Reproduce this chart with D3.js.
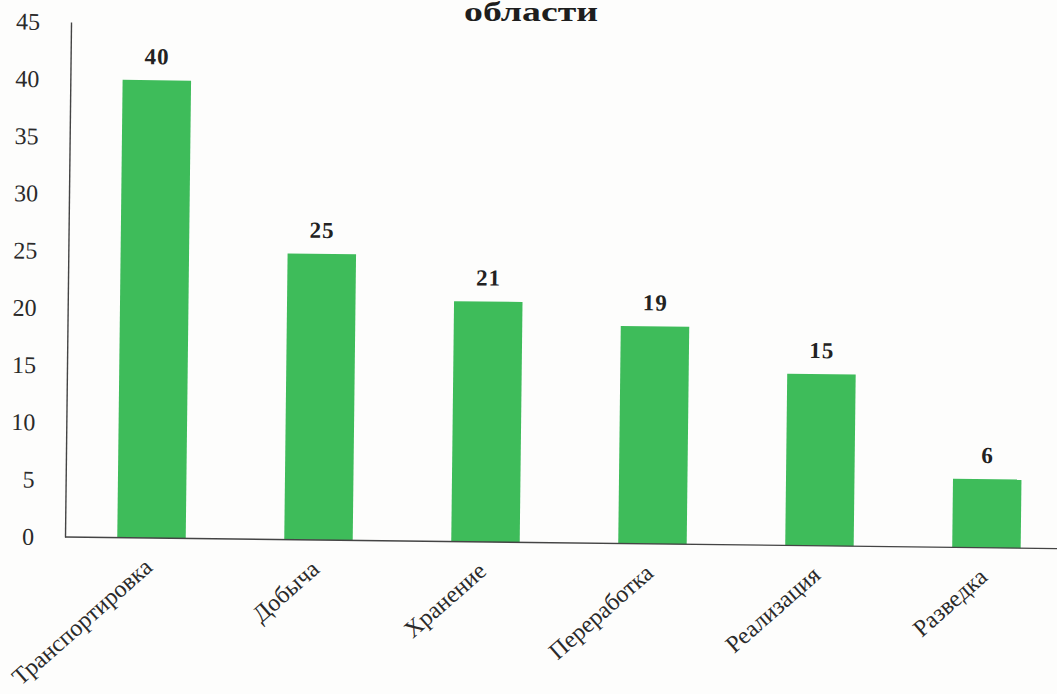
<!DOCTYPE html>
<html>
<head>
<meta charset="utf-8">
<script src="https://cdn.jsdelivr.net/npm/d3@7"></script>
<style>
  body { margin: 0; background: #fdfdfc; }
  svg { display: block; }
</style>
</head>
<body>
<script>
// categories and values
var categories = ["Транспортировка", "Добыча", "Хранение", "Переработка", "Реализация", "Разведка"];
var values = [40, 25, 21, 19, 15, 6];
var yTicks = [0, 5, 10, 15, 20, 25, 30, 35, 40, 45];
var titleText = "области";

var serif = "'Liberation Serif', 'Times New Roman', serif";

var width = 1057,
    height = 694;

var svg = d3.select("body")
    .append("svg")
    .attr("width", width)
    .attr("height", height);

//title (only its last line is in the scan, which is stretched wide)
svg.append("text")
    .attr("x", 531)
    .attr("y", 21)
    .attr("text-anchor", "middle")
    .attr("textLength", 134)
    .attr("lengthAdjust", "spacingAndGlyphs")
    .style("font-family", serif)
    .style("font-weight", "bold")
    .style("font-size", "28px")
    .style("fill", "#1e1e1e")
    .text(titleText);

//scan is slightly tilted
var g = svg.append("g")
    .attr("transform", "translate(65,537) rotate(0.67)");

var x = d3.scaleBand()
    .domain(categories)
    .range([3, 1005])
    .paddingInner(0.59)
    .paddingOuter(0.295);

var y = d3.scaleLinear()
    .domain([0, 45])
    .range([0, -515]);

//bars
g.selectAll(".bar")
    .data(values)
    .enter()
    .append("rect")
    .attr("class", "bar")
    .attr("x", function(d, i){ return x(categories[i]); })
    .attr("y", function(d){ return y(d); })
    .attr("width", x.bandwidth())
    .attr("height", function(d){ return -y(d); })
    .style("fill", "#3ebc5a");

//value labels
g.selectAll(".val")
    .data(values)
    .enter()
    .append("text")
    .attr("class", "val")
    .attr("x", function(d, i){ return x(categories[i]) + x.bandwidth() / 2; })
    .attr("y", function(d){ return y(d) - 16; })
    .attr("text-anchor", "middle")
    .style("font-family", serif)
    .style("font-weight", "bold")
    .style("font-size", "23px")
    .style("letter-spacing", "1px")
    .style("fill", "#222")
    .text(function(d){ return d; });

//y axis
var yAxis = g.append("g")
    .call(d3.axisLeft(y).tickValues(yTicks).tickSize(0).tickPadding(31));
yAxis.select(".domain").attr("stroke", "#444").attr("stroke-width", 1.4);
yAxis.selectAll("text")
    .style("font-family", serif)
    .style("font-size", "24px")
    .style("fill", "#2a2a2a");

//x axis
var xAxis = g.append("g")
    .call(d3.axisBottom(x).tickSize(0).tickPadding(0));
xAxis.select(".domain")
    .attr("d", "M0,0H1000")
    .attr("stroke", "#444")
    .attr("stroke-width", 1.4);
xAxis.selectAll("text")
    .attr("text-anchor", "end")
    .attr("transform", "translate(-3,25) rotate(-42)")
    .attr("dy", "0.35em")
    .style("font-family", serif)
    .style("font-size", "24px")
    .style("fill", "#2a2a2a");
</script>
</body>
</html>
